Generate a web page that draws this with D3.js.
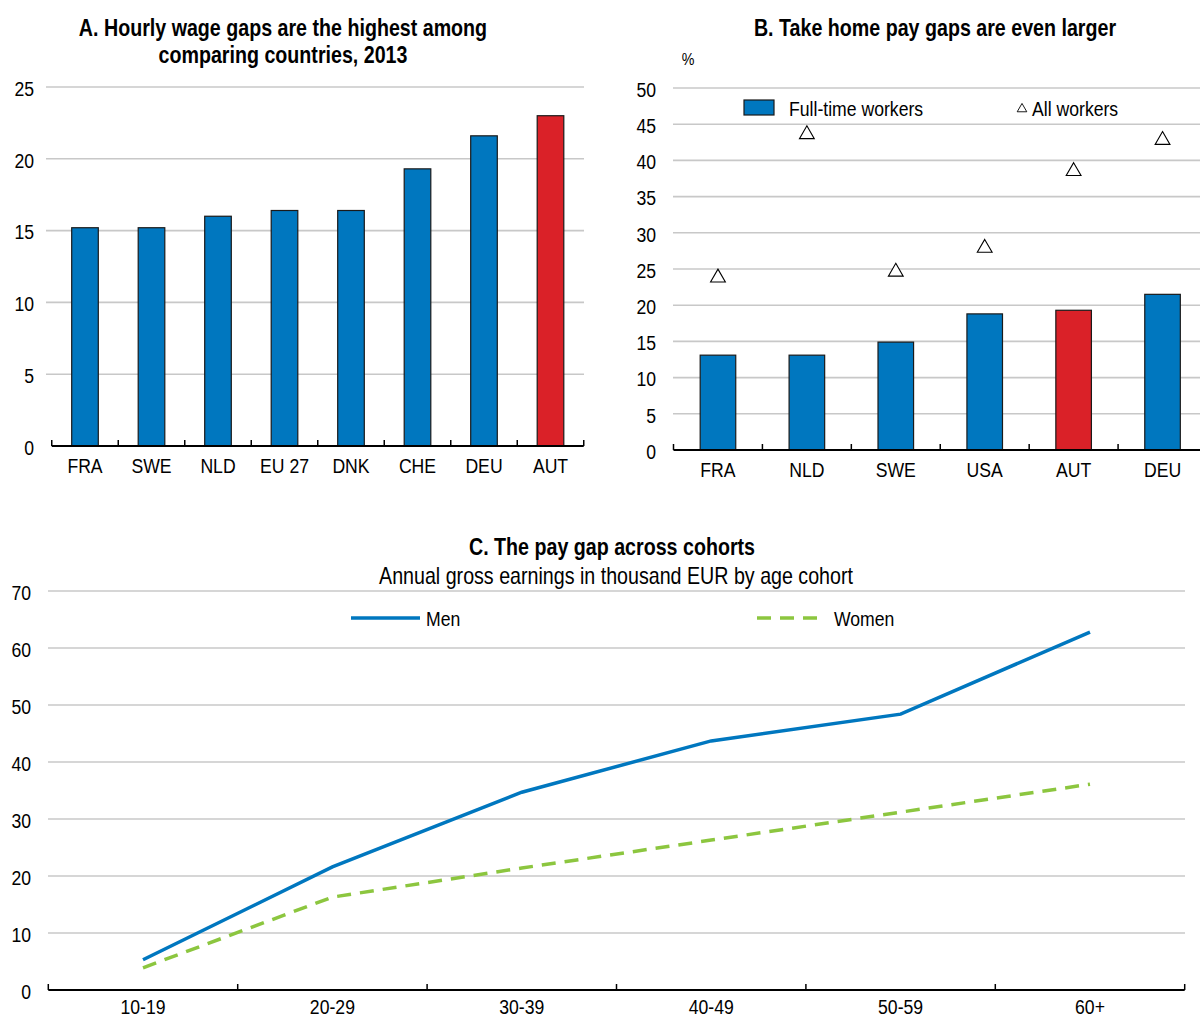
<!DOCTYPE html>
<html>
<head>
<meta charset="utf-8">
<script src="https://cdn.jsdelivr.net/npm/d3@7"></script>
<style>
  html, body { margin: 0; padding: 0; background: #fff; }
  svg { display: block; font-family: "Liberation Sans", Arial, sans-serif; }
</style>
</head>
<body>
<svg id="chart" width="1200" height="1018"></svg>
<script>
// Panel A: hourly wage gaps, 2013
const hourlyCountries = ["FRA", "SWE", "NLD", "EU 27", "DNK", "CHE", "DEU", "AUT"];
const hourlyGap = [15.2, 15.2, 16.0, 16.4, 16.4, 19.3, 21.6, 23.0];
const hourlyTicks = [0, 5, 10, 15, 20, 25];

// Panel B: take home pay gaps
const takeHomeCountries = ["FRA", "NLD", "SWE", "USA", "AUT", "DEU"];
const fullTimeGap = [13.1, 13.1, 14.9, 18.8, 19.3, 21.5];
const allWorkersGap = [23.8, 43.6, 24.6, 27.9, 38.5, 42.8];
const takeHomeTicks = [0, 5, 10, 15, 20, 25, 30, 35, 40, 45, 50];

// Panel C: annual gross earnings by age cohort (thousand EUR)
const cohorts = ["10-19", "20-29", "30-39", "40-49", "50-59", "60+"];
const menEarnings = [5.3, 21.6, 34.7, 43.7, 48.4, 62.8];
const womenEarnings = [3.9, 16.3, 21.4, 26.3, 31.2, 36.1];
const cohortTicks = [0, 10, 20, 30, 40, 50, 60, 70];

const BLUE = "#0077bf";
const RED = "#da2128";
const GREEN = "#8cc63f";
const GRID = "#c8c8c8";
const LABEL_SIZE = 21;
const TITLE_SIZE = 23;
const NARROW = 0.84; // horizontal squeeze to give a condensed face

const svg = d3.select("#chart");

// condensed text: positioned by translate, squeezed horizontally
function txt(g, x, y, str, opts = {}) {
  const sx = opts.scale || NARROW;
  return g.append("text")
    .attr("transform", `translate(${x},${y}) scale(${sx},1)`)
    .attr("text-anchor", opts.anchor || "start")
    .attr("dy", opts.dy || null)
    .attr("font-size", opts.size || LABEL_SIZE)
    .attr("font-weight", opts.bold ? "bold" : null)
    .attr("fill", "#000")
    .text(str);
}

function gridAndYAxis(g, y, ticks, x0, x1, labelX) {
  g.selectAll("line.grid").data(ticks.filter(t => t !== 0)).join("line")
    .attr("class", "grid")
    .attr("x1", x0).attr("x2", x1)
    .attr("y1", d => y(d)).attr("y2", d => y(d))
    .attr("stroke", GRID).attr("stroke-width", 1.6);
  ticks.forEach(t => txt(g, labelX, y(t), t, { anchor: "end", dy: "0.42em" }));
}

function bandBaseAxis(g, x, y0, labels, labelY) {
  const step = x.step();
  const start = x.range()[0];
  const n = labels.length;
  const tickPos = d3.range(n + 1).map(i => start + i * step);
  g.append("line")
    .attr("x1", start).attr("x2", start + n * step)
    .attr("y1", y0).attr("y2", y0)
    .attr("stroke", "#000").attr("stroke-width", 2);
  g.selectAll("line.tick").data(tickPos).join("line")
    .attr("class", "tick")
    .attr("x1", d => d).attr("x2", d => d)
    .attr("y1", y0).attr("y2", y0 - 6)
    .attr("stroke", "#000").attr("stroke-width", 1.5);
  labels.forEach(d => txt(g, x(d) + x.bandwidth() / 2, labelY, d, { anchor: "middle" }));
}

const titleOpts = { anchor: "middle", bold: true, size: TITLE_SIZE, scale: 0.855 };

// ---------- Panel A ----------
{
  const g = svg.append("g");
  const x = d3.scaleBand().domain(hourlyCountries).range([51.75, 583.75]).paddingInner(0.6).paddingOuter(0.3);
  const y = d3.scaleLinear().domain([0, 25]).range([446, 87]);

  txt(g, 283, 36, "A. Hourly wage gaps are the highest among", titleOpts);
  txt(g, 283, 63, "comparing countries, 2013", titleOpts);

  gridAndYAxis(g, y, hourlyTicks, 46, 584, 34);

  g.selectAll("rect.bar").data(hourlyCountries).join("rect")
    .attr("class", "bar")
    .attr("x", d => x(d))
    .attr("width", x.bandwidth())
    .attr("y", (d, i) => y(hourlyGap[i]))
    .attr("height", (d, i) => y(0) - y(hourlyGap[i]))
    .attr("fill", d => d === "AUT" ? RED : BLUE)
    .attr("stroke", "#1a1a1a").attr("stroke-width", 1.2);

  const xb = d3.scaleBand().domain(hourlyCountries).range([51.75, 583.75]);
  bandBaseAxis(g, xb, y(0), hourlyCountries, 473);
}

// ---------- Panel B ----------
{
  const g = svg.append("g");
  const range = [673.5, 1207];
  const x = d3.scaleBand().domain(takeHomeCountries).range(range).paddingInner(0.6).paddingOuter(0.3);
  const xb = d3.scaleBand().domain(takeHomeCountries).range(range);
  const y = d3.scaleLinear().domain([0, 50]).range([450, 88]);

  txt(g, 935, 36, "B. Take home pay gaps are even larger", titleOpts);
  txt(g, 688, 65, "%", { anchor: "middle", size: 17 });

  gridAndYAxis(g, y, takeHomeTicks, 673, 1200, 656);

  g.selectAll("rect.bar").data(takeHomeCountries).join("rect")
    .attr("class", "bar")
    .attr("x", d => x(d))
    .attr("width", x.bandwidth())
    .attr("y", (d, i) => y(fullTimeGap[i]))
    .attr("height", (d, i) => y(0) - y(fullTimeGap[i]))
    .attr("fill", d => d === "AUT" ? RED : BLUE)
    .attr("stroke", "#1a1a1a").attr("stroke-width", 1.2);

  const tri = d3.symbol().type(d3.symbolTriangle).size(95);
  g.selectAll("path.tri").data(takeHomeCountries).join("path")
    .attr("class", "tri")
    .attr("transform", (d, i) => `translate(${xb(d) + xb.bandwidth() / 2},${y(allWorkersGap[i])})`)
    .attr("d", tri)
    .attr("fill", "#fff").attr("stroke", "#000").attr("stroke-width", 1.1);

  bandBaseAxis(g, xb, y(0), takeHomeCountries, 477);

  // legend
  const lg = g.append("g");
  lg.append("rect").attr("x", 744).attr("y", 100).attr("width", 30).attr("height", 15)
    .attr("fill", BLUE).attr("stroke", "#1a1a1a").attr("stroke-width", 1.2);
  txt(lg, 789, 108, "Full-time workers", { dy: "0.36em" });
  lg.append("path").attr("transform", "translate(1022,109)")
    .attr("d", d3.symbol().type(d3.symbolTriangle).size(40))
    .attr("fill", "#fff").attr("stroke", "#000").attr("stroke-width", 0.9);
  txt(lg, 1032, 108, "All workers", { dy: "0.36em" });
}

// ---------- Panel C ----------
{
  const g = svg.append("g");
  const range = [48.3, 1184.7];
  const x = d3.scaleBand().domain(cohorts).range(range);
  const cx = d => x(d) + x.bandwidth() / 2;
  const y = d3.scaleLinear().domain([0, 70]).range([990, 591]);

  txt(g, 612, 555, "C. The pay gap across cohorts", titleOpts);
  txt(g, 616, 584, "Annual gross earnings in thousand EUR by age cohort",
    { anchor: "middle", size: TITLE_SIZE, scale: 0.855 });

  gridAndYAxis(g, y, cohortTicks, 48, 1185, 31);

  const line = d3.line().x((d, i) => cx(cohorts[i])).y(d => y(d));
  g.append("path").datum(womenEarnings).attr("d", line)
    .attr("fill", "none").attr("stroke", GREEN).attr("stroke-width", 3.5)
    .attr("stroke-dasharray", "14,9");
  g.append("path").datum(menEarnings).attr("d", line)
    .attr("fill", "none").attr("stroke", BLUE).attr("stroke-width", 3.5);

  bandBaseAxis(g, x, y(0), cohorts, 1014);

  // legend
  g.append("line").attr("x1", 351).attr("x2", 420).attr("y1", 618).attr("y2", 618)
    .attr("stroke", BLUE).attr("stroke-width", 3.5);
  txt(g, 426, 618, "Men", { dy: "0.36em" });
  g.append("line").attr("x1", 757).attr("x2", 826).attr("y1", 618).attr("y2", 618)
    .attr("stroke", GREEN).attr("stroke-width", 3.5).attr("stroke-dasharray", "14,9");
  txt(g, 834, 618, "Women", { dy: "0.36em" });
}
</script>
</body>
</html>
